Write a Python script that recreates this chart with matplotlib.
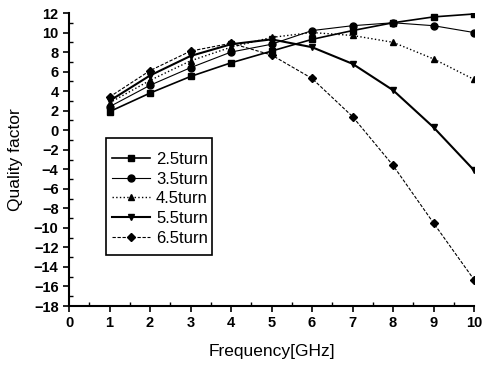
import matplotlib
matplotlib.use("Agg")
import matplotlib.pyplot as plt
from matplotlib.ticker import MultipleLocator
from matplotlib.patches import Rectangle

plt.rcParams['font.family'] = ['Liberation Sans', 'DejaVu Sans']

freq = [1, 2, 3, 4, 5, 6, 7, 8, 9, 10]
q_25 = [1.9, 3.8, 5.5, 6.9, 8.1, 9.3, 10.2, 11.0, 11.6, 11.9]
q_35 = [2.4, 4.6, 6.4, 8.0, 8.8, 10.2, 10.7, 11.0, 10.7, 10.0]
q_45 = [2.8, 5.1, 7.1, 8.5, 9.5, 10.0, 9.7, 9.0, 7.3, 5.2]
q_55 = [3.0, 5.6, 7.6, 8.8, 9.3, 8.5, 6.8, 4.1, 0.3, -4.1]
q_65 = [3.4, 6.1, 8.1, 8.9, 7.7, 5.3, 1.4, -3.6, -9.5, -15.3]
labels = ['2.5turn', '3.5turn', '4.5turn', '5.5turn', '6.5turn']

fig = plt.figure(figsize=(4.9, 3.66), dpi=100)
ax = fig.add_axes([69/490, 1-306/366, (474-69)/490, (306-13)/366])

ax.plot(freq, q_25, '-', marker='s', color='black', lw=1.2, ms=5, label=labels[0])
ax.plot(freq, q_35, '-', marker='o', color='black', lw=0.8, ms=5, label=labels[1])
ax.plot(freq, q_45, ':', marker='^', color='black', lw=1.0, ms=5, label=labels[2])
ax.plot(freq, q_55, '-', marker='v', color='black', lw=1.5, ms=5, label=labels[3])
ax.plot(freq, q_65, '--', marker='D', color='black', lw=0.8, ms=4, dashes=(3, 1.5), label=labels[4])

ax.set_xlim(0, 10)
ax.set_ylim(-18, 12)
ax.xaxis.set_major_locator(MultipleLocator(1))
ax.xaxis.set_minor_locator(MultipleLocator(0.5))
ax.yaxis.set_major_locator(MultipleLocator(2))
ax.yaxis.set_minor_locator(MultipleLocator(1))
ax.tick_params(which='major', direction='out', length=4, width=1.2, labelsize=10.5)
ax.tick_params(which='minor', direction='in', length=3, width=1.0)
for lab in ax.get_xticklabels() + ax.get_yticklabels():
    lab.set_fontweight('bold')

ax.spines['top'].set_visible(False)
ax.spines['right'].set_visible(False)
ax.spines['left'].set_linewidth(1.5)
ax.spines['bottom'].set_linewidth(1.5)

ax.set_xlabel('Frequency[GHz]', fontsize=12.5, labelpad=10)
ax.set_ylabel('Quality factor', fontsize=12.5, labelpad=8)

leg = ax.legend(loc='upper left', bbox_to_anchor=(0.0716, 0.573), borderaxespad=0,
                fontsize=12, frameon=False,
                handlelength=2.3, handletextpad=0.35, labelspacing=0.28,
                borderpad=0.83)
ax.add_patch(Rectangle((0.0914, 0.174), 0.353 - 0.0914, 0.573 - 0.174,
                       transform=ax.transAxes, fill=False, edgecolor='black',
                       lw=1.2, zorder=1))

fig.savefig('out.png', dpi=100)
